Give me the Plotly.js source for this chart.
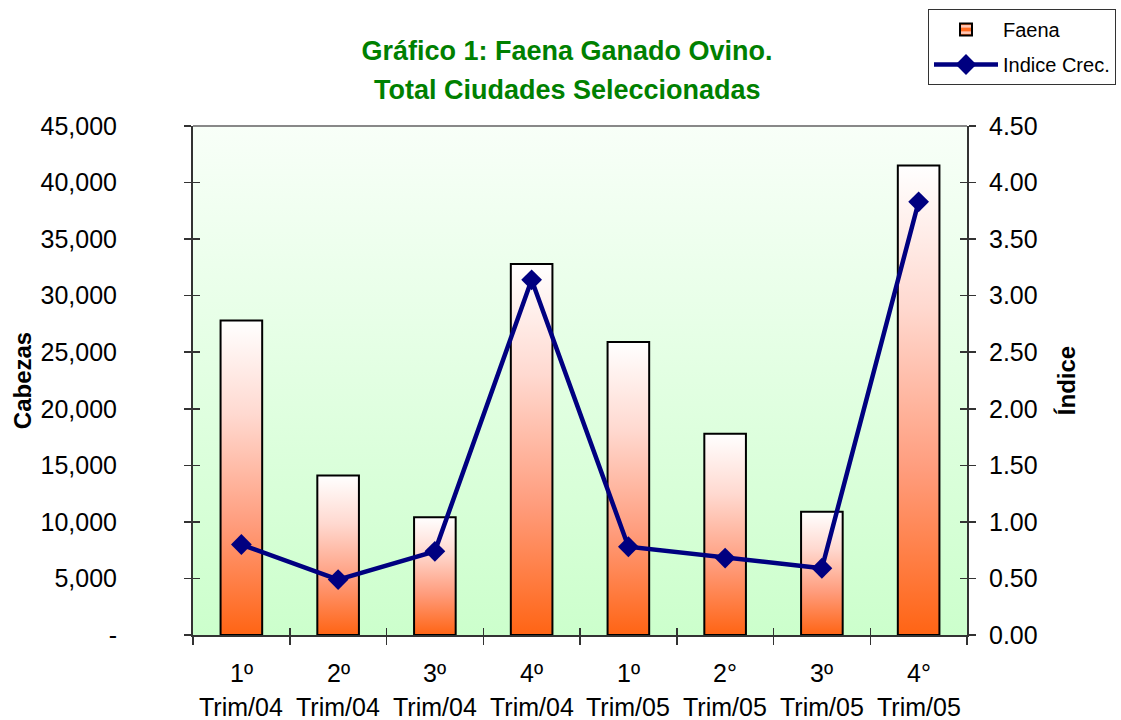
<!DOCTYPE html>
<html>
<head>
<meta charset="utf-8">
<script src="https://cdn.plot.ly/plotly-3.0.1.min.js"></script>
<style>html,body{margin:0;padding:0;background:#fff;}#chart{width:1121px;height:720px;}</style>
</head>
<body>
<div id="chart"></div>
<script>
// ---- data ----
var quarterLabels = ["1º", "2º", "3º", "4º", "1º", "2°", "3º", "4°"];
var yearLabels = ["Trim/04", "Trim/04", "Trim/04", "Trim/04", "Trim/05", "Trim/05", "Trim/05", "Trim/05"];
var faena = [27800, 14100, 10400, 32800, 25900, 17800, 10900, 41500];
var indice = [0.80, 0.49, 0.74, 3.14, 0.78, 0.68, 0.59, 3.83];
var leftTickVals = [0, 5000, 10000, 15000, 20000, 25000, 30000, 35000, 40000, 45000];
var leftTickText = ["-", "5,000", "10,000", "15,000", "20,000", "25,000", "30,000", "35,000", "40,000", "45,000"];
var rightTickVals = [0, 0.5, 1, 1.5, 2, 2.5, 3, 3.5, 4, 4.5];

var FONT = "Liberation Sans, Arial, sans-serif";
var n = faena.length;
var idx = faena.map(function(_, i){ return i; });
var barW = 0.43;
var yMax = 45000;

var traces = [];
// plot-area background gradient
traces.push({
  type: "scatter", mode: "lines", fill: "toself",
  x: [-0.5, -0.5, n - 0.5, n - 0.5, -0.5],
  y: [0, yMax, yMax, 0, 0],
  line: {width: 0, color: "rgba(0,0,0,0)"},
  fillgradient: {type: "vertical", colorscale: [[0, "#CCFFCC"], [1, "#F8FFF8"]]},
  hoverinfo: "skip", showlegend: false
});
// gradient bars
faena.forEach(function(v, i){
  var x0 = i - barW / 2, x1 = i + barW / 2;
  traces.push({
    type: "scatter", mode: "lines", fill: "toself",
    x: [x0, x0, x1, x1, x0],
    y: [0, v, v, 0, 0],
    line: {width: 2, color: "#000000"},
    fillgradient: {type: "vertical", colorscale: [[0, "#FF6414"], [0.35, "#FF9C7C"], [0.7, "#FFD9D0"], [1, "#FFFFFF"]]},
    hoverinfo: "skip", showlegend: false
  });
});
// legend proxy for Faena
traces.push({
  type: "bar", x: [0], y: [null], name: "Faena", legendgroup: "g1",
  marker: {color: "#FF7A40", line: {color: "#000", width: 2},
           pattern: {shape: "-", fgcolor: "#FFC8B8", bgcolor: "#FF6A20", size: 8, solidity: 0.4}},
  showlegend: true, hoverinfo: "skip"
});
// index line
traces.push({
  type: "scatter", mode: "lines+markers", name: "Indice Crec.", legendgroup: "g2",
  x: idx, y: indice, yaxis: "y2",
  line: {color: "#000080", width: 4.5},
  marker: {symbol: "diamond", size: 16, color: "#000080"}
});
// empty carriers so the inner-tick axes get drawn
traces.push({type: "scatter", mode: "markers", x: [null], y: [null], xaxis: "x2", yaxis: "y3", showlegend: false, hoverinfo: "skip"});
traces.push({type: "scatter", mode: "markers", x: [null], y: [null], xaxis: "x2", yaxis: "y4", showlegend: false, hoverinfo: "skip"});

var annotations = [];
idx.forEach(function(i){
  annotations.push({xref: "x", yref: "paper", x: i, y: -0.075, yanchor: "middle", showarrow: false,
    text: quarterLabels[i], font: {family: FONT, size: 25, color: "#000"}});
  annotations.push({xref: "x", yref: "paper", x: i, y: -0.141, yanchor: "middle", showarrow: false,
    text: yearLabels[i], font: {family: FONT, size: 25, color: "#000"}});
});
annotations.push({xref: "paper", yref: "paper", x: (567 - 193) / 774, y: (635 - 90) / 509, yanchor: "middle",
  showarrow: false, text: "<b>Total Ciudades Seleccionadas</b>", font: {family: FONT, size: 27, color: "#008000"}});

var boundaries = [];
for (var b = 0; b <= n; b++) boundaries.push(b - 0.5);
var emptyText = boundaries.map(function(){ return ""; });

var tickStyle = {tickcolor: "#333", tickwidth: 1.5, showgrid: false, zeroline: false, automargin: false};
function ext(base, extra){ var o = {}; for (var k in base) o[k] = base[k]; for (var k2 in extra) o[k2] = extra[k2]; return o; }

var layout = {
  width: 1121, height: 720,
  margin: {l: 193, r: 154, t: 126, b: 85, pad: 0, autoexpand: false},
  paper_bgcolor: "#FFFFFF", plot_bgcolor: "#FFFFFF",
  font: {family: FONT, size: 25, color: "#000"},
  title: {text: "<b>Gráfico 1: Faena Ganado Ovino.</b>", x: 567 / 1121, xanchor: "center",
          y: 1 - 51 / 720, yanchor: "middle", font: {family: FONT, size: 27, color: "#008000"}},
  showlegend: true,
  legend: {x: (928 - 193) / 774, xanchor: "left", y: (635 - 9) / 509, yanchor: "top",
           bgcolor: "#FFFFFF", bordercolor: "#333", borderwidth: 1, itemwidth: 64,
           font: {family: FONT, size: 20, color: "#000"}, tracegroupgap: 6, traceorder: "grouped"},
  xaxis: ext(tickStyle, {range: [-0.5, n - 0.5], tickvals: boundaries, ticktext: emptyText,
          ticks: "outside", ticklen: 8, showline: true, linecolor: "#333", linewidth: 2, fixedrange: true}),
  xaxis2: ext(tickStyle, {range: [-0.5, n - 0.5], tickvals: boundaries, showticklabels: false,
          overlaying: "x", anchor: "y3", side: "bottom", ticks: "inside", ticklen: 7, showline: false}),
  yaxis: ext(tickStyle, {range: [0, yMax], tickvals: leftTickVals, ticktext: leftTickText,
          ticks: "outside", ticklen: 7, ticklabelstandoff: 62,
          showline: true, linecolor: "#333", linewidth: 2,
          title: {text: "<b>Cabezas</b>", font: {family: FONT, size: 24}, standoff: 2}}),
  yaxis2: ext(tickStyle, {range: [0, 4.5], tickvals: rightTickVals, tickformat: ".2f", overlaying: "y", side: "right",
           ticks: "outside", ticklen: 7, ticklabelstandoff: 8,
           showline: true, linecolor: "#333", linewidth: 2,
           title: {text: "<b>Índice</b>", font: {family: FONT, size: 24}, standoff: 22}}),
  yaxis3: ext(tickStyle, {range: [0, yMax], tickvals: leftTickVals, showticklabels: false,
           overlaying: "y", side: "left", anchor: "x2", ticks: "inside", ticklen: 7, showline: false}),
  yaxis4: ext(tickStyle, {range: [0, 4.5], tickvals: rightTickVals, showticklabels: false,
           overlaying: "y", side: "right", anchor: "x2", ticks: "inside", ticklen: 7, showline: false}),
  shapes: [{type: "line", xref: "paper", yref: "paper", x0: 0, x1: 1, y0: 1, y1: 1,
            line: {color: "#888", width: 2}}],
  annotations: annotations
};

Plotly.newPlot("chart", traces, layout, {displayModeBar: false, staticPlot: true});
</script>
</body>
</html>
